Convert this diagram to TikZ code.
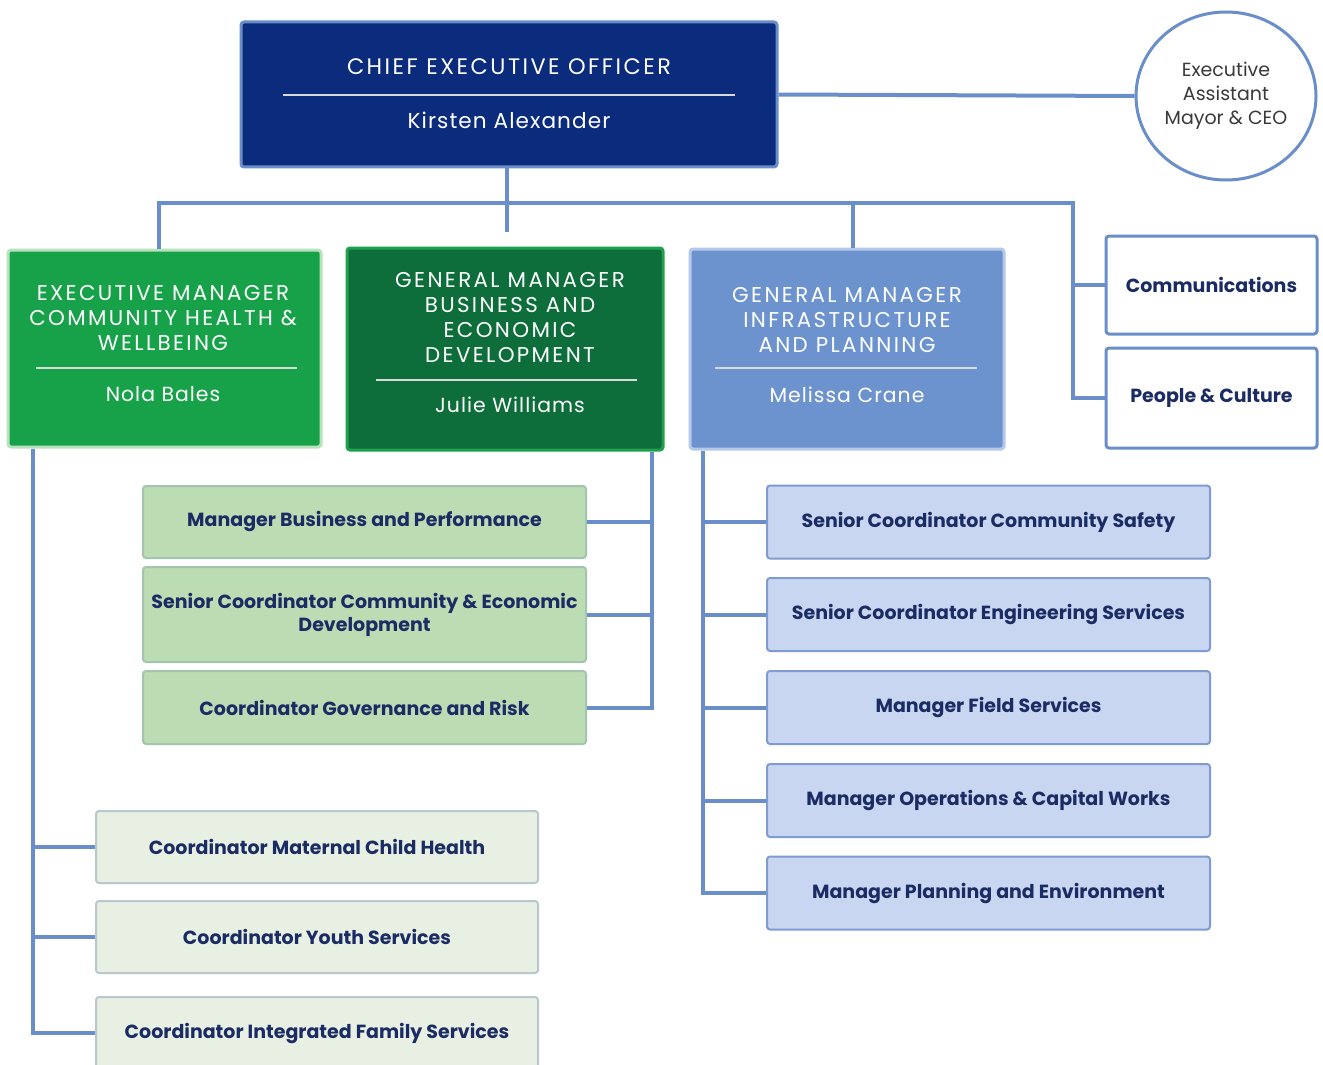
\documentclass[tikz,border=0pt]{standalone}
\usepackage{fontspec}
\usetikzlibrary{shapes.geometric}
\setmainfont{Poppins}
\newfontfamily\capsfont[LetterSpace=11]{Poppins}
\newfontfamily\namefont[LetterSpace=5]{Poppins}
\definecolor{navy}{HTML}{0B2B7C}
\definecolor{connc}{HTML}{6A8EC9}
\definecolor{emgreen}{HTML}{17A24A}
\definecolor{emborder}{HTML}{B8E2BC}
\definecolor{gmgreen}{HTML}{0D6E3B}
\definecolor{gmborder}{HTML}{1FA04C}
\definecolor{gmblue}{HTML}{6D93CF}
\definecolor{gmbborder}{HTML}{B4C8EA}
\definecolor{subgreen}{HTML}{BCDCB3}
\definecolor{subgborder}{HTML}{A3C4AE}
\definecolor{subblue}{HTML}{C8D6F1}
\definecolor{subbborder}{HTML}{7F9BD0}
\definecolor{sublight}{HTML}{E7F0E2}
\definecolor{sublborder}{HTML}{B8C8CC}
\definecolor{txtnavy}{HTML}{1B2B63}
\definecolor{graytxt}{HTML}{3A3A3A}
\tikzset{
  conn/.style={draw=connc, line width=2pt},
  boxbase/.style={rectangle, rounded corners=1.5pt, line width=1.5pt, inner sep=0pt},
  ceobox/.style={boxbase, fill=navy, draw=connc},
  embox/.style={boxbase, fill=emgreen, draw=emborder},
  gmbbox/.style={boxbase, fill=gmgreen, draw=gmborder},
  gmibox/.style={boxbase, fill=gmblue, draw=gmbborder},
  sidebox/.style={boxbase, fill=white, draw=connc, minimum width=105.5pt, line width=1.5pt},
  gsub/.style={boxbase, fill=subgreen, draw=subgborder, line width=1pt, minimum width=221.5pt, align=center, text=txtnavy, font=\fontsize{9.5}{11.5}\selectfont\bfseries},
  bsub/.style={boxbase, fill=subblue, draw=subbborder, line width=1pt, minimum width=221.5pt, minimum height=36.5pt, align=center, text=txtnavy, font=\fontsize{9.5}{11.5}\selectfont\bfseries},
  lsub/.style={boxbase, fill=sublight, draw=sublborder, line width=1pt, minimum width=221pt, minimum height=36pt, align=center, text=txtnavy, font=\fontsize{9.5}{11.5}\selectfont\bfseries},
  htitle/.style={align=center, text=white, inner sep=0pt, font=\fontsize{10.7}{12.5}\selectfont\capsfont},
  hname/.style={align=center, text=white, inner sep=0pt, font=\fontsize{10.2}{12.5}\selectfont\namefont},
  hrule/.style={draw=white!85!black, line width=0.6pt},
}
\begin{document}
\begin{tikzpicture}[x=0.5pt,y=-0.5pt]
\useasboundingbox[fill=white] (0,0) rectangle (1323,1065);

% CEO
\node[ceobox, minimum width=268pt, minimum height=72.5pt] (ceo) at (509,94.5) {};
\node[htitle, font=\fontsize{11.2}{12.5}\selectfont\capsfont] (ceot) at (509,67) {CHIEF EXECUTIVE OFFICER};
\node[hname, font=\fontsize{10.8}{12.5}\selectfont\namefont] (ceon) at (509,120) {Kirsten Alexander};
\draw[hrule] (283,95) -- (735,95);

% Executive assistant
\node[ellipse, draw=connc, line width=1.5pt, fill=white, minimum width=90pt, minimum height=84pt, inner sep=0pt, align=center, text=graytxt, font=\fontsize{9.5}{12}\selectfont] (ea) at (1226,96) {Executive\\Assistant\\Mayor \& CEO};

% Executive manager
\node[embox, minimum width=156.5pt, minimum height=98.5pt] (em) at (164.5,348.5) {};
\node[htitle] (emt) at (163,318) {EXECUTIVE MANAGER\\COMMUNITY HEALTH \&\\WELLBEING};
\draw[hrule] (36,368) -- (297,368);
\node[hname] (emn) at (163,394) {Nola Bales};

% GM business
\node[gmbbox, minimum width=158pt, minimum height=101pt] (gmb) at (505,349) {};
\node[htitle] (gmbt) at (510,317.5) {GENERAL MANAGER\\BUSINESS AND\\ECONOMIC\\DEVELOPMENT};
\draw[hrule] (376,380) -- (637,380);
\node[hname] (gmbn) at (510,405) {Julie Williams};

% GM infrastructure
\node[gmibox, minimum width=157pt, minimum height=100pt] (gmi) at (847,349) {};
\node[htitle] (gmit) at (847,320) {GENERAL MANAGER\\INFRASTRUCTURE\\AND PLANNING};
\draw[hrule] (715,368) -- (977,368);
\node[hname] (gmin) at (847,395) {Melissa Crane};

% Side boxes
\node[sidebox, minimum height=49pt, text=txtnavy, font=\fontsize{9.5}{11.5}\selectfont\bfseries] (comm) at (1211.5,285) {Communications};
\node[sidebox, minimum height=50pt, text=txtnavy, font=\fontsize{9.5}{11.5}\selectfont\bfseries] (pc) at (1211.5,398) {People \& Culture};

% Green sub boxes
\node[gsub, minimum height=36pt] (g1) at (364.5,522) {Manager Business and Performance};
\node[gsub, minimum height=47.5pt] (g2) at (364.5,614.5) {Senior Coordinator Community \& Economic\\Development};
\node[gsub, minimum height=36.5pt] (g3) at (364.5,707.5) {Coordinator Governance and Risk};

% Blue sub boxes
\node[bsub] (b1) at (988.5,522) {Senior Coordinator Community Safety};
\node[bsub] (b2) at (988.5,614.5) {Senior Coordinator Engineering Services};
\node[bsub] (b3) at (988.5,707.5) {Manager Field Services};
\node[bsub] (b4) at (988.5,800.5) {Manager Operations \& Capital Works};
\node[bsub] (b5) at (988.5,893) {Manager Planning and Environment};

% Light sub boxes
\node[lsub] (l1) at (317,847) {Coordinator Maternal Child Health};
\node[lsub] (l2) at (317,937) {Coordinator Youth Services};
\node[lsub] (l3) at (317,1033) {Coordinator Integrated Family Services};

% Connectors
\coordinate (gtop) at (507,232);
\coordinate (busR) at (1073,203);
\coordinate (busL) at (159,203);
\draw[conn] (ceo.east) -- (ea.west);
\draw[conn] (ceo.south -| gtop) -- (gtop);
\draw[conn] (em.north -| busL) -- (busL) -- (busR) |- (pc.west);
\draw[conn] (busR) |- (comm.west);
\draw[conn] (gmi.north -| 853,0) -- (853,203);

\coordinate (gsp) at ([xshift=-6.5pt]gmb.south east);
\draw[conn] (gsp) |- (g3.east);
\draw[conn] (g1.east) -- (g1.east -| gsp);
\draw[conn] (g2.east) -- (g2.east -| gsp);

\coordinate (isp) at ([xshift=7pt]gmi.south west);
\draw[conn] (isp) |- (b5.west);
\foreach \n in {b1,b2,b3,b4} \draw[conn] (\n.west) -- (\n.west -| isp);

\coordinate (esp) at ([xshift=13pt]em.south west);
\draw[conn] (esp) |- (l3.west);
\foreach \n in {l1,l2} \draw[conn] (\n.west) -- (\n.west -| esp);
\end{tikzpicture}
\end{document}
